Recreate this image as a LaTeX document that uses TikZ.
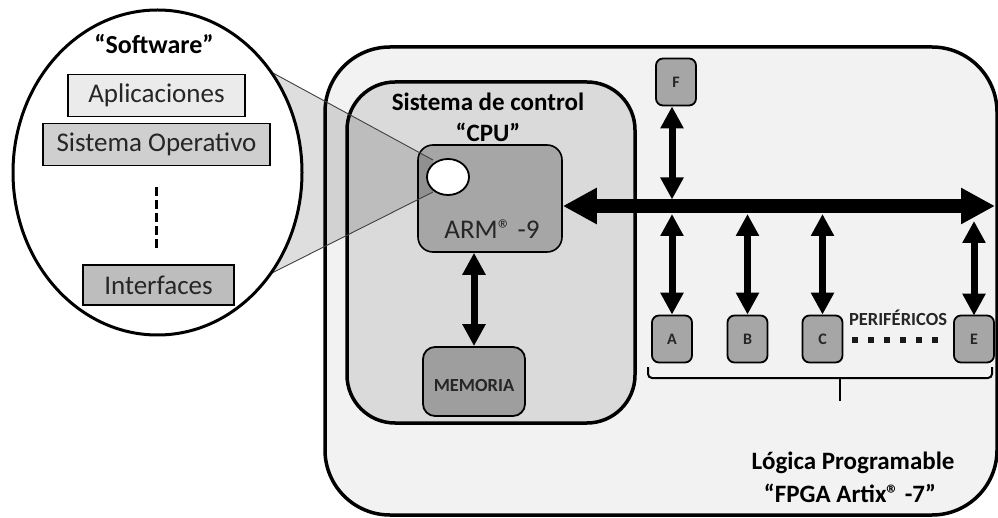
\documentclass[tikz,border=0pt]{standalone}
\usepackage{fontspec}
\setmainfont{Carlito}
\usetikzlibrary{arrows.meta,shapes.geometric}
\definecolor{outerfill}{HTML}{F2F2F2}
\definecolor{cpufill}{HTML}{DADADA}
\definecolor{boxgray}{HTML}{A6A6A6}
\definecolor{memgray}{HTML}{9E9E9E}
\definecolor{appfill}{HTML}{EBEBEB}
\definecolor{osfill}{HTML}{CFCFCF}
\definecolor{iffill}{HTML}{BDBDBD}
\tikzset{
  swbox/.style={draw=black, line width=1.6pt, minimum height=42pt, inner sep=0pt,
    font=\fontsize{27}{30}\selectfont, text=black!85},
  periph/.style={draw=black, line width=1.8pt, fill=boxgray, rounded corners=7pt,
    minimum width=40pt, minimum height=47pt, inner sep=0pt,
    font=\bfseries\fontsize{16}{18}\selectfont, text=black!85},
  title/.style={font=\bfseries\fontsize{25}{28}\selectfont, inner sep=0pt},
  bigarrow/.style={line width=14pt, arrows={Triangle[length=34pt,width=34pt]-Triangle[length=34pt,width=34pt]}},
  smallarrow/.style={line width=7pt, arrows={Triangle[length=22pt,width=22pt]-Triangle[length=22pt,width=22pt]}},
}
\begin{document}
\begin{tikzpicture}[x=1pt,y=-1pt]
\useasboundingbox (0,0) rectangle (998,518);
% FPGA outer block
\node (fpga) [draw=black, line width=3.5pt, fill=outerfill, rounded corners=65pt,
  minimum width=672pt, minimum height=468pt, inner sep=0pt] at (661,281) {};
% CPU block
\node (cpu) [draw=black, line width=3.5pt, fill=cpufill, rounded corners=48pt,
  minimum width=288pt, minimum height=341pt, inner sep=0pt] at (491,252.5) {};
\node (cputitle) [title] at (488,102) {Sistema de control};
\node (cpuname) [title] at (488,132) {“CPU”};
% ARM
\node (arm) [draw=black, line width=1.6pt, fill=boxgray, rounded corners=15pt,
  minimum width=144pt, minimum height=107pt, inner sep=0pt] at (490,198.5) {};
\node (armtext) [font=\fontsize{27}{30}\selectfont, text=black!85, inner sep=0pt]
  at (492,229) {ARM® -9};
% memory
\node (mem) [draw=black, line width=1.8pt, fill=memgray, rounded corners=12pt,
  minimum width=102pt, minimum height=69pt, inner sep=0pt] at (474,381.5) {};
\node (memtext) [font=\bfseries\fontsize{18.5}{20}\selectfont, text=black!85, inner sep=0pt]
  at (474,385) {MEMORIA};
\draw[smallarrow] (mem.north) -- (mem.north |- arm.south);
% peripherals
\node (F) [periph] at (676,82) {F};
\node (A) [periph] at (672,339) {A};
\node (B) [periph] at (747.5,339) {B};
\node (C) [periph] at (822.5,339) {C};
\node (E) [periph] at (974,339) {E};
\coordinate (busR) at (995,206);
\coordinate (busT) at (0,199.5);
\coordinate (busB) at (0,214);
\draw[bigarrow] (arm.east |- busR) -- (busR);
\draw[smallarrow] (F.south -| A.north) -- (A.north |- busT);
\draw[smallarrow] (A.north) -- (A.north |- busB);
\draw[smallarrow] (B.north) -- (B.north |- busB);
\draw[smallarrow] (C.north) -- (C.north |- busB);
\draw[smallarrow] ([yshift=-1pt]E.north) -- ([yshift=-1pt]E.north |- 0,220);
\node (perif) [font=\bfseries\fontsize{18.5}{20}\selectfont, text=black!85, inner sep=0pt]
  at (898,318) {PERIFÉRICOS};
\coordinate (dotsL) at (852,340);
\coordinate (dotsR) at (938,340);
\draw[line width=6pt, dash pattern=on 6pt off 10pt, black!90] (dotsL) -- (dotsR);
% brace
\coordinate (brL) at (648,367);
\coordinate (brR) at (992,367);
\coordinate (brM) at (840,378);
\coordinate (brT) at (840,401);
\draw[line width=2pt, rounded corners=4pt] (brL) -- (brL |- brM) -- (brR |- brM) -- (brR);
\draw[line width=2pt] (brM) -- (brT);
\node (fpgat1) [title] at (853,463) {Lógica Programable};
\node (fpgat2) [title] at (850,493) {“FPGA Artix® -7”};
% zoom cone
\coordinate (c1) at (273,73);
\coordinate (c2) at (433,160);
\coordinate (c3) at (433,192);
\coordinate (c4) at (268,275);
\fill[black, opacity=0.13] (c1) -- (c2) -- (c3) -- (c4) -- (200,172) -- cycle;
\draw[line width=0.9pt, black!75] (c1) -- (c2) (c4) -- (c3);
\node (eye) [draw=black, line width=1.8pt, fill=white, ellipse, minimum width=42pt,
  minimum height=36pt, inner sep=0pt] at (448,177) {};
% software bubble
\node (sw) [draw=black, line width=3pt, fill=white, ellipse, minimum width=289pt,
  minimum height=325pt, inner sep=0pt] at (157.5,172.5) {};
\node (swtitle) [font=\bfseries\fontsize{26}{28}\selectfont, inner sep=0pt] at (154,44) {“Software”};
\node (app) [swbox, fill=appfill, minimum width=177pt] at (156.5,95.5) {Aplicaciones};
\node (os) [swbox, fill=osfill, minimum width=227pt] at (156.5,144.5) {Sistema Operativo};
\node (ifc) [swbox, fill=iffill, minimum width=151pt, minimum height=40pt] at (158.5,285) {Interfaces};
\draw[line width=3pt, dash pattern=on 9pt off 4pt] (os.south |- 0,187) -- (os.south |- 0,250);
\end{tikzpicture}
\end{document}
